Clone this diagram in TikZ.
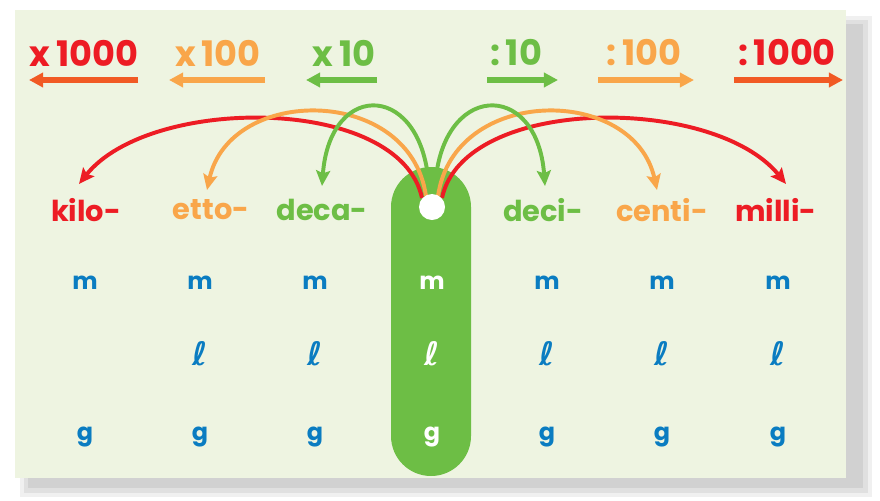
\documentclass[tikz,border=0pt]{standalone}
\usepackage{fontspec}
\setmainfont{Poppins}[BoldFont={* Bold}]
\newfontfamily\dvs{DejaVu Sans}
\usetikzlibrary{arrows.meta}
\definecolor{cred}{HTML}{ED1C24}
\definecolor{cora}{HTML}{F9A64A}
\definecolor{cgrn}{HTML}{6DBE45}
\definecolor{cblu}{HTML}{0A7CC1}
\definecolor{corr}{HTML}{F15A24}
\definecolor{panel}{HTML}{EEF4E1}
\tikzset{
  pfx/.style={font=\bfseries\fontsize{20.5}{24}\selectfont, inner sep=0pt},
  unitlab/.style={text=cblu, font=\bfseries\fontsize{17}{20}\selectfont, inner sep=0pt},
  lunitlab/.style={text=cblu, font=\dvs\bfseries\fontsize{23}{26}\selectfont, inner sep=0pt},
  cunitlab/.style={text=white, font=\bfseries\fontsize{17}{20}\selectfont, inner sep=0pt},
  faclab/.style={font=\bfseries\fontsize{25}{28}\selectfont, inner sep=0pt},
  bararrow/.style={line width=3.6pt, -{Triangle[length=10pt,width=10pt]}},
  curvearrow/.style={line width=2.8pt, -{Stealth[length=11pt,width=10pt,inset=2pt]}}
}
\begin{document}
\begin{tikzpicture}[x=0.025cm,y=-0.025cm]
\useasboundingbox (0,0) rectangle (880,500);
\fill[white] (0,0) rectangle (880,500);
% shadow and panel
\fill[black!6] (20,16) rectangle (872,497);
\fill[black!12] (24,20) rectangle (868,493);
\fill[black!18] (28,24) rectangle (863,488);
\fill[panel] (15,10) rectangle (846,478);
% green pill
\fill[cgrn, rounded corners=1cm] (391,167) rectangle (471,476);
% factors
\node[faclab,text=cred] (f1) at (84,53) {x\,1000};
\node[faclab,text=cora] (f2) at (218,53) {x\,100};
\node[faclab,text=cgrn] (f3) at (344,53) {x\,10};
\node[faclab,text=cgrn] (f4) at (516,53) {:\,10};
\node[faclab,text=cora] (f5) at (644,53) {:\,100};
\node[faclab,text=cred] (f6) at (787,53) {:\,1000};
\coordinate (a1s) at (138,80); \coordinate (a1e) at (29,80);
\coordinate (a2s) at (265,80); \coordinate (a2e) at (169,80);
\coordinate (a3s) at (377,80); \coordinate (a3e) at (306,80);
\coordinate (a4s) at (487,80); \coordinate (a4e) at (558,80);
\coordinate (a5s) at (598,80); \coordinate (a5e) at (694,80);
\coordinate (a6s) at (734,80); \coordinate (a6e) at (843,80);
\draw[bararrow,corr] (a1s) -- (a1e);
\draw[bararrow,cora] (a2s) -- (a2e);
\draw[bararrow,cgrn] (a3s) -- (a3e);
\draw[bararrow,cgrn] (a4s) -- (a4e);
\draw[bararrow,cora] (a5s) -- (a5e);
\draw[bararrow,corr] (a6s) -- (a6e);
% prefixes
\node[pfx,text=cred] (kilo) at (86,210) {kilo-};
\node[pfx,text=cora] (etto) at (211,210) {etto-};
\node[pfx,text=cgrn] (deca) at (322,210) {deca-};
\node[pfx,text=cgrn] (deci) at (543,210) {deci-};
\node[pfx,text=cora] (centi) at (662,210) {centi-};
\node[pfx,text=cred] (milli) at (776,210) {milli-};
% arcs
\coordinate (rl) at (79,184); \coordinate (ol) at (207,190); \coordinate (gl) at (322,186);
\coordinate (rr) at (786,184); \coordinate (or) at (657,190); \coordinate (gr) at (545,186);
\draw[curvearrow,cred] (422,198) .. controls (400,95) and (150,95) .. (rl);
\draw[curvearrow,cred] (442,198) .. controls (464,95) and (714,95) .. (rr);
\draw[curvearrow,cora] (426,196) .. controls (410,85) and (230,85) .. (ol);
\draw[curvearrow,cora] (438,196) .. controls (454,85) and (634,85) .. (or);
\draw[curvearrow,cgrn] (429,190) .. controls (425,82) and (330,78) .. (gl);
\draw[curvearrow,cgrn] (435,190) .. controls (439,82) and (537,78) .. (gr);
% white circle
\node[circle,fill=white,minimum size=0.65cm,inner sep=0pt] (c) at (432,207) {};
% units
\foreach \x/\n in {85/k,200/e,315/d,547/di,662/ce,778/mi}{
  \node[unitlab] (m\n) at (\x,283) {m};
  \node[unitlab] (g\n) at (\x,437) {g};
}
\foreach \x/\n in {200/e,315/d,547/di,662/ce,778/mi}{
  \node[lunitlab] (l\n) at (\x,354) {ℓ};
}
\node[cunitlab] (mc) at (432,283) {m};
\node[cunitlab,font=\dvs\bfseries\fontsize{23}{26}\selectfont] (lc) at (432,354) {ℓ};
\node[cunitlab] (gc) at (432,437) {g};
\end{tikzpicture}
\end{document}
